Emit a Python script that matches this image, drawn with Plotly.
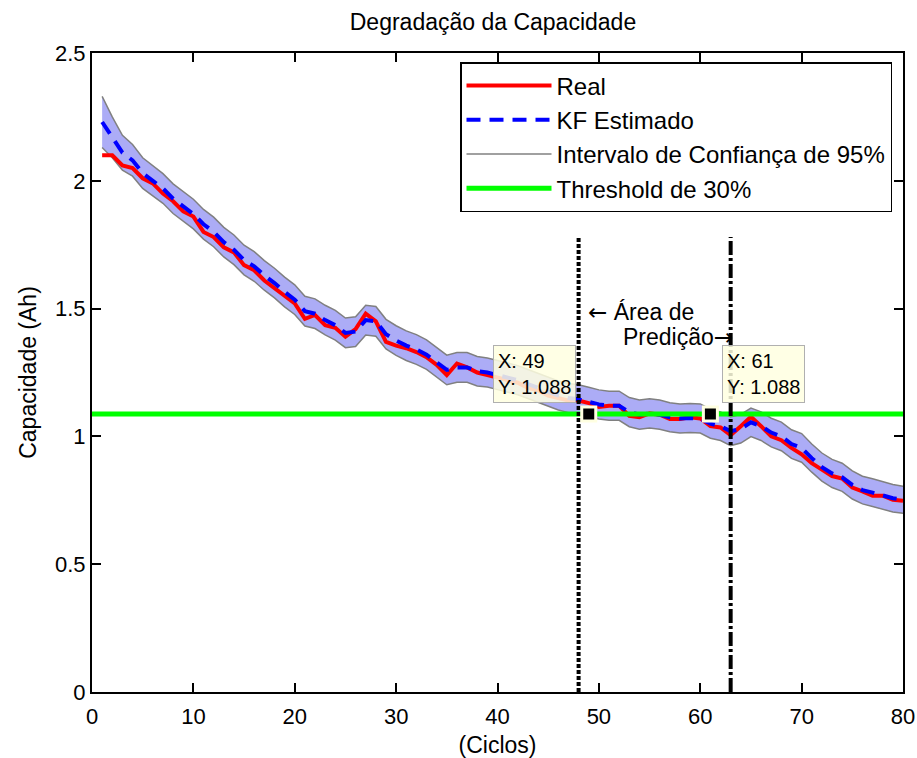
import plotly.graph_objects as go

# ---------------- data ----------------
cycles = list(range(1, 81))

capacity_real = [
    2.10, 2.10, 2.06, 2.05, 2.01, 1.99, 1.95, 1.92, 1.88, 1.86,
    1.80, 1.78, 1.74, 1.72, 1.67, 1.65, 1.61, 1.58, 1.55, 1.52,
    1.46, 1.475, 1.435, 1.425, 1.39, 1.42, 1.48, 1.45, 1.37, 1.355,
    1.345, 1.33, 1.31, 1.28, 1.24, 1.285, 1.27, 1.25, 1.24, 1.23,
    1.22, 1.21, 1.19, 1.18, 1.16, 1.15, 1.14, 1.14, 1.13, 1.115,
    1.12, 1.12, 1.08, 1.075, 1.09, 1.085, 1.068, 1.068, 1.075, 1.07,
    1.04, 1.035, 1.005, 1.04, 1.077, 1.04, 1.00, 0.985, 0.955, 0.93,
    0.895, 0.87, 0.845, 0.835, 0.80, 0.785, 0.768, 0.768, 0.752, 0.748,
]

capacity_kf = [
    2.23, 2.17, 2.11, 2.08, 2.03, 2.00, 1.97, 1.93, 1.90, 1.87,
    1.83, 1.80, 1.76, 1.73, 1.69, 1.665, 1.63, 1.60, 1.565, 1.535,
    1.49, 1.48, 1.455, 1.435, 1.405, 1.41, 1.455, 1.45, 1.40, 1.375,
    1.355, 1.34, 1.32, 1.29, 1.26, 1.27, 1.27, 1.255, 1.25, 1.24,
    1.23, 1.22, 1.205, 1.19, 1.175, 1.16, 1.15, 1.145, 1.135, 1.125,
    1.12, 1.12, 1.095, 1.085, 1.09, 1.085, 1.075, 1.07, 1.072, 1.07,
    1.05, 1.04, 1.02, 1.03, 1.055, 1.04, 1.015, 1.00, 0.97, 0.955,
    0.915, 0.88, 0.855, 0.84, 0.81, 0.79, 0.78, 0.768, 0.758, 0.752,
]

# half-width of the 95% confidence interval around the KF estimate
ci_halfwidth = [
    0.100, 0.080, 0.068, 0.062, 0.060, 0.059, 0.058, 0.058, 0.058, 0.058,
    0.058, 0.058, 0.058, 0.058, 0.058, 0.058, 0.058, 0.058, 0.058, 0.058,
    0.058, 0.058, 0.058, 0.058, 0.058, 0.058, 0.058, 0.058, 0.058, 0.058,
    0.058, 0.058, 0.058, 0.058, 0.058, 0.058, 0.058, 0.058, 0.057, 0.057,
    0.057, 0.057, 0.057, 0.057, 0.057, 0.057, 0.057, 0.057, 0.057, 0.057,
    0.057, 0.057, 0.057, 0.057, 0.057, 0.057, 0.057, 0.057, 0.057, 0.057,
    0.057, 0.056, 0.056, 0.056, 0.056, 0.056, 0.056, 0.056, 0.056, 0.056,
    0.055, 0.055, 0.055, 0.055, 0.055, 0.054, 0.054, 0.054, 0.054, 0.053,
]

threshold_value = 1.088
threshold_x = [0, 80]

prediction_bounds = [48, 63]
prediction_line_y = [0, 1.78]

datatip_x = [49, 61]
datatip_y = [1.088, 1.088]

x_ticks = [0, 10, 20, 30, 40, 50, 60, 70, 80]
y_ticks = [0, 0.5, 1, 1.5, 2, 2.5]
y_tick_labels = ["0", "0.5", "1", "1.5", "2", "2.5"]

# ---------------- figure ----------------
FONT = "Liberation Sans, Arial, sans-serif"
ARROW = '<span style="font-family:DejaVu Sans">{}</span>'
upper = [k + h for k, h in zip(capacity_kf, ci_halfwidth)]
lower = [k - h for k, h in zip(capacity_kf, ci_halfwidth)]

fig = go.Figure()

# confidence band fill
fig.add_trace(go.Scatter(
    x=cycles + cycles[::-1], y=upper + lower[::-1],
    fill="toself", fillcolor="#acacf6", line=dict(width=0),
    mode="lines", showlegend=False, hoverinfo="skip"))
# band edges
fig.add_trace(go.Scatter(
    x=cycles, y=upper, mode="lines", name="Intervalo de Confiança de 95%",
    line=dict(color="#808080", width=1.5), legendrank=3))
fig.add_trace(go.Scatter(
    x=cycles, y=lower, mode="lines", showlegend=False,
    line=dict(color="#808080", width=1.5)))
# real capacity
fig.add_trace(go.Scatter(
    x=cycles, y=capacity_real, mode="lines", name="Real",
    line=dict(color="#ff0000", width=4), legendrank=1))
# KF estimate
fig.add_trace(go.Scatter(
    x=cycles, y=capacity_kf, mode="lines", name="KF Estimado",
    line=dict(color="#0000ff", width=4, dash="14px,9px"), legendrank=2))
# threshold
fig.add_trace(go.Scatter(
    x=threshold_x, y=[threshold_value, threshold_value], mode="lines",
    name="Threshold de 30%", line=dict(color="#00ff00", width=5), legendrank=4))
# prediction area bounds
fig.add_trace(go.Scatter(
    x=[prediction_bounds[0]] * 2, y=prediction_line_y, mode="lines",
    showlegend=False, line=dict(color="black", width=4, dash="4px,2px")))
fig.add_trace(go.Scatter(
    x=[prediction_bounds[1]] * 2, y=prediction_line_y, mode="lines",
    showlegend=False, line=dict(color="black", width=4, dash="14px,3px,3px,3px")))
# datatip markers
fig.add_trace(go.Scatter(
    x=datatip_x, y=datatip_y, mode="markers", showlegend=False,
    marker=dict(symbol="square", size=14, color="black",
                line=dict(color="#ffffe1", width=3))))

# datatip boxes
tip_style = dict(showarrow=False, align="left", font=dict(family=FONT, size=20, color="black"),
                 bgcolor="rgba(255,255,225,0.85)", bordercolor="#b0b0b0", borderwidth=1, borderpad=4)
fig.add_annotation(x=datatip_x[0], y=datatip_y[0],
                   text=f"X: {datatip_x[0]}<br>Y: {datatip_y[0]:.3f}",
                   xanchor="right", yanchor="bottom", xshift=-13, yshift=11, **tip_style)
fig.add_annotation(x=datatip_x[1], y=datatip_y[1],
                   text=f"X: {datatip_x[1]}<br>Y: {datatip_y[1]:.3f}",
                   xanchor="left", yanchor="bottom", xshift=12, yshift=11, **tip_style)

# prediction area labels
fig.add_annotation(x=prediction_bounds[0] + 0.7, y=1.487, text=ARROW.format("←") + " Área de",
                   showarrow=False, xanchor="left", yanchor="middle",
                   font=dict(family=FONT, size=23, color="black"))
fig.add_annotation(x=prediction_bounds[1] + 0.45, y=1.39, text="Predição" + ARROW.format("→"),
                   showarrow=False, xanchor="right", yanchor="middle",
                   font=dict(family=FONT, size=23, color="black"))

axis_common = dict(showline=True, linecolor="black", linewidth=2, mirror="allticks",
                   ticks="inside", ticklen=9, tickwidth=1.5, tickcolor="black",
                   showgrid=False, zeroline=False, automargin=False,
                   ticklabeloverflow="allow",
                   tickfont=dict(family=FONT, size=22, color="black"))

fig.update_layout(
    width=917, height=758,
    margin=dict(l=92, r=14, t=53, b=66),
    paper_bgcolor="white", plot_bgcolor="white",
    font=dict(family=FONT, size=23, color="black"),
    title=dict(text="Degradação da Capacidade", x=0.5376, xref="container", xanchor="center",
               y=1 - 22 / 758, yanchor="middle", font=dict(family=FONT, size=23, color="black")),
    xaxis=dict(range=[0, 80], tickvals=x_ticks, ticklabelstandoff=4,
               title=dict(text="(Ciclos)", standoff=9, font=dict(family=FONT, size=23)),
               **axis_common),
    yaxis=dict(range=[0, 2.5], tickvals=y_ticks, ticktext=y_tick_labels,
               title=dict(text="Capacidade (Ah)", standoff=12, font=dict(family=FONT, size=23)),
               **axis_common),
    legend=dict(x=(460 - 92) / 811, y=(692 - 62) / 639, xanchor="left", yanchor="top",
                bgcolor="white", bordercolor="black", borderwidth=1.5,
                font=dict(family=FONT, size=24, color="black"),
                itemwidth=85, tracegroupgap=0),
    showlegend=True,
)

fig.write_html("out.html")
